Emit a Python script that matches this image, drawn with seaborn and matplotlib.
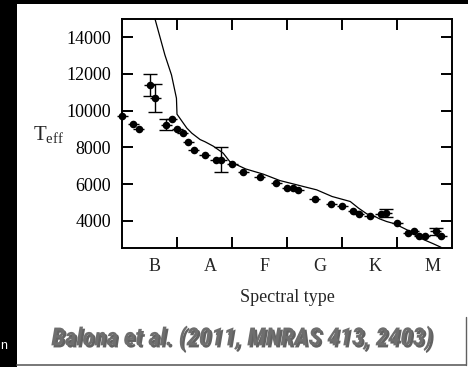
import matplotlib
matplotlib.use("Agg")
import matplotlib.pyplot as plt
import matplotlib.patheffects as pe
from matplotlib.lines import Line2D
from matplotlib import font_manager as fm
import numpy as np
import seaborn as sns

#-Data (x: 0..6 spectral type scale)
spec_x = [0.0, 0.2, 0.3, 0.5, 0.6, 0.8, 0.9, 1.0, 1.1, 1.2, 1.3, 1.5,
          1.7, 1.8, 2.0, 2.2, 2.5, 2.8, 3.0, 3.1, 3.2, 3.5, 3.8, 4.0,
          4.2, 4.3, 4.5, 4.7, 4.8, 5.0, 5.2, 5.3, 5.4, 5.5, 5.7, 5.8]
teff = [9710, 9255, 8983, 11391, 10701, 9217, 9543, 8983, 8766, 8290, 7858, 7587,
        7330, 7330, 7081, 6660, 6375, 6065, 5777, 5777, 5668, 5195, 4907, 4815,
        4543, 4380, 4287, 4364, 4418, 3875, 3331, 3456, 3200, 3200, 3418, 3184]
teff_err = [0, 0, 0, 580, 760, 300, 0, 0, 0, 0, 0, 0,
            0, 700, 0, 0, 0, 0, 0, 0, 0, 0, 0, 0,
            0, 0, 0, 0, 220, 0, 0, 0, 0, 0, 180, 0]
spec_err = 0.1

curve_x = [0.58, 0.78, 0.90, 0.99, 1.00, 1.18, 1.27, 1.42, 1.51, 1.66, 1.84, 1.96,
           2.25, 2.57, 2.87, 3.18, 3.30, 3.54, 3.82, 4.15, 4.30, 4.45, 4.60, 4.68,
           4.81, 4.96, 5.18, 5.42, 5.66, 5.80]
curve_y = [15200, 13022, 11935, 10668, 9800, 9038, 8766, 8420, 8300, 8060, 7680, 7222,
           6820, 6538, 6190, 5956, 5864, 5684, 5322, 5050, 4690, 4380, 4233, 4110,
           3962, 3837, 3510, 3060, 2750, 2560]

types = ["B", "A", "F", "G", "K", "M"]
type_pos = [0.6, 1.6, 2.6, 3.6, 4.6, 5.65]

sns.set_style("ticks")
plt.rcParams["font.family"] = ["Liberation Serif", "DejaVu Serif"]
plt.rcParams["mathtext.fontset"] = "custom"
plt.rcParams["mathtext.rm"] = "Liberation Serif"
plt.rcParams["mathtext.it"] = "Liberation Serif:italic"

fig = plt.figure(figsize=(4.68, 3.67), dpi=100)
fig.patch.set_facecolor("black")

#-White panel + caption box
fig.add_artist(plt.Rectangle((17/468, 0), 1, 1 - 4/367, transform=fig.transFigure,
                             facecolor="white", edgecolor="none", zorder=-10))
fig.add_artist(Line2D([17/468, 466/468], [1 - 365/367] * 2, transform=fig.transFigure,
                      color="#606060", lw=1.2))
fig.add_artist(Line2D([466/468] * 2, [1 - 365/367, 1 - 317/367], transform=fig.transFigure,
                      color="#606060", lw=1.0))

ax = fig.add_axes([122/468, 1 - 248/367, 330/468, 229/367])
ax.set_facecolor("white")

sns.lineplot(x=curve_x, y=curve_y, sort=False, color="black", lw=0.9, ax=ax)

ax.errorbar(spec_x, teff, xerr=spec_err, fmt="none", ecolor="black", elinewidth=1.0,
            capsize=0, clip_on=False)
m = np.array(teff_err) > 0
ax.errorbar(np.array(spec_x)[m], np.array(teff)[m], yerr=np.array(teff_err)[m],
            fmt="none", ecolor="black", elinewidth=1.0, capsize=5, capthick=1.0)
sns.scatterplot(x=spec_x, y=teff, color="black", s=30, edgecolor="black", linewidth=0,
                ax=ax, zorder=5, clip_on=False)

ax.set_xlim(0, 6)
ax.set_ylim(2520, 14980)
ax.set_yticks([4000, 6000, 8000, 10000, 12000, 14000])
ax.set_xticks([1, 2, 3, 4, 5])
ax.set_xticklabels([])
ax.set_xticks(type_pos, minor=True)
ax.set_xticklabels(types, minor=True)
ax.tick_params(axis="both", which="major", direction="in", length=8, width=1.4,
               top=True, right=True, labelsize=13, colors="black")
ax.tick_params(axis="y", which="major", pad=8)
ax.tick_params(axis="x", which="minor", length=0, pad=7, labelsize=13)
for s in ax.spines.values():
    s.set_linewidth(1.4)
    s.set_color("black")

ax.set_xlabel("Spectral type", fontsize=13, labelpad=10)
fig.text(33/468, 1 - 134/367, r"T$_{\rm eff}$", fontsize=15, va="center", ha="left")

#-caption: a narrow family if one is installed, otherwise shrink Liberation Sans
cap_family, cap_size = "Liberation Sans", 15.6
for fam, size in [("Liberation Sans Narrow", 18), ("Roboto Condensed", 18)]:
    try:
        fm.findfont(fm.FontProperties(family=fam), fallback_to_default=False)
        cap_family, cap_size = fam, size
        break
    except ValueError:
        pass
fig.text(242/468, 1 - 338/367, "Balona et al. (2011, MNRAS 413, 2403)",
         family=cap_family, weight="bold", style="italic", fontsize=cap_size,
         color="#6e6e6e", ha="center", va="center",
         path_effects=[pe.withSimplePatchShadow(offset=(1.5, -1.5), shadow_rgbFace="#202020", alpha=0.7)])
fig.text(0.5/468, 1 - 346/367, "n", color="white", fontsize=9, family="Liberation Sans",
         ha="left", va="center")

fig.savefig("out.png", dpi=100, facecolor=fig.get_facecolor())
